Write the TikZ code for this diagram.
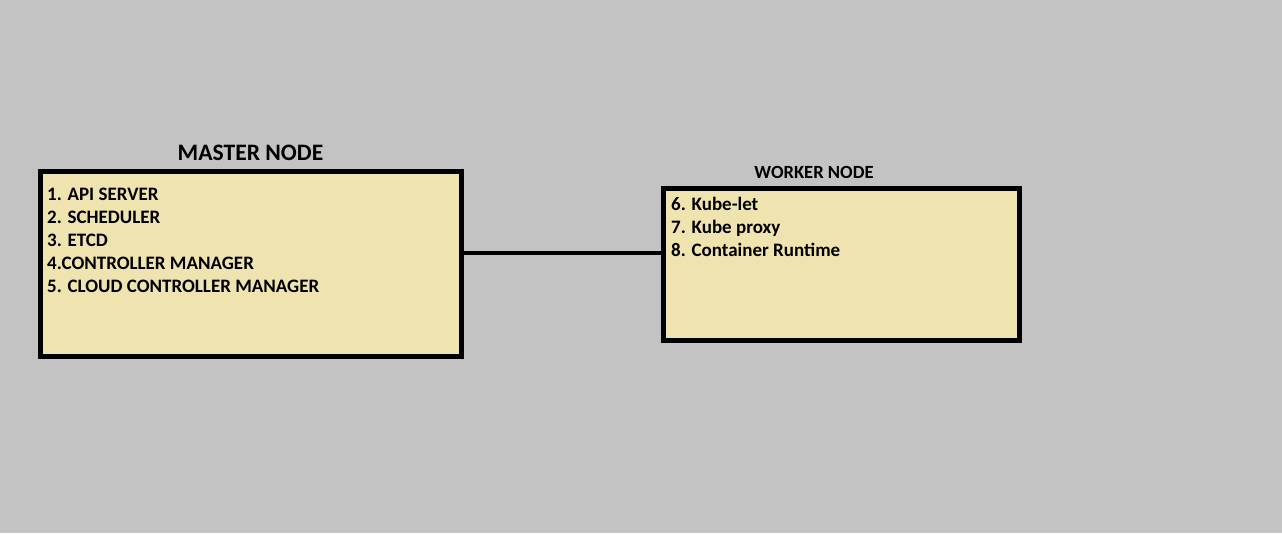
\documentclass[tikz,border=0pt]{standalone}
\usepackage{fontspec}
\setmainfont{Carlito}
\definecolor{bggray}{RGB}{195,195,195}
\definecolor{boxfill}{RGB}{239,228,176}
\tikzset{
  nodebox/.style={draw=black, line width=5pt, fill=boxfill, inner sep=0pt},
  item/.style={anchor=base west, inner sep=0pt, font=\fontsize{19}{22}\selectfont\bfseries},
  bigtitle/.style={anchor=base, inner sep=0pt, font=\fontsize{23.6}{28}\selectfont\bfseries},
  smalltitle/.style={anchor=base, inner sep=0pt, font=\fontsize{18.6}{22}\selectfont\bfseries},
  link/.style={draw=black, line width=4pt}
}
\begin{document}
\begin{tikzpicture}[x=1pt,y=-1pt]
\fill[bggray] (0,0) rectangle (1282,533);
\useasboundingbox (0,0) rectangle (1282,533);
\node[nodebox, minimum width=421pt, minimum height=184.5pt] (master) at (251,263.75) {};
\node[nodebox, minimum width=356pt, minimum height=152pt] (worker) at (841.5,264.5) {};
\node[bigtitle] (mt) at (250.5,160) {MASTER NODE};
\node[smalltitle] (wt) at (814,178) {WORKER NODE};
\node[item] (m1) at (47,200.7) {1. API SERVER};
\node[item] (m2) at (47,223.7) {2. SCHEDULER};
\node[item] (m3) at (47,246.7) {3. ETCD};
\node[item] (m4) at (47,269.7) {4.CONTROLLER MANAGER};
\node[item] (m5) at (47,292.7) {5. CLOUD CONTROLLER MANAGER};
\node[item] (w1) at (671,210.7) {6. Kube-let};
\node[item] (w2) at (671,233.7) {7. Kube proxy};
\node[item] (w3) at (671,256.7) {8. Container Runtime};
\coordinate (cy) at (0,253);
\draw[link] (master.east |- cy) -- (worker.west |- cy);
\end{tikzpicture}
\end{document}
